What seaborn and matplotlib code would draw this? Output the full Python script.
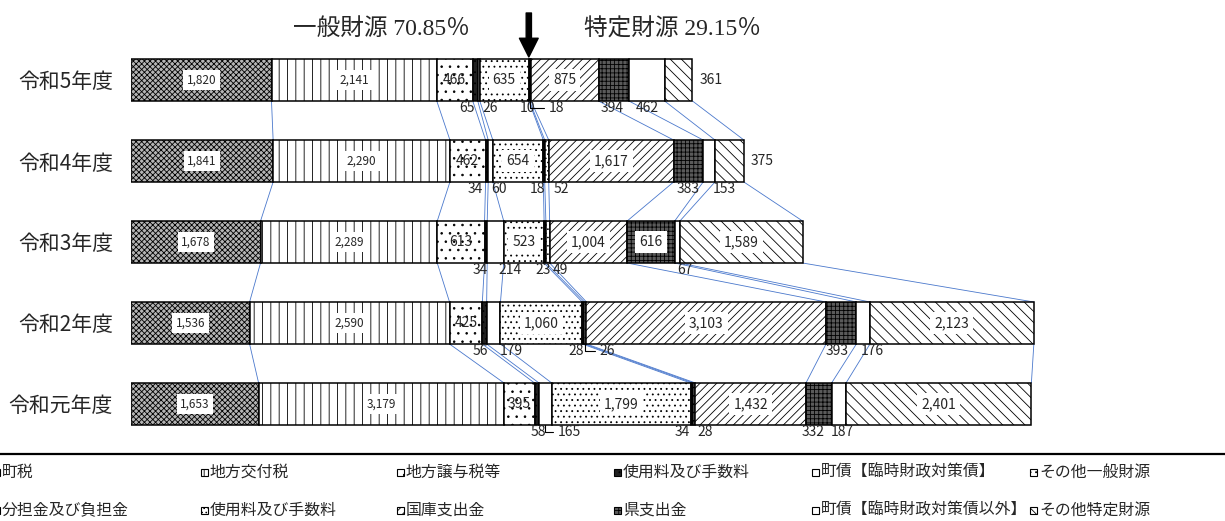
import matplotlib
matplotlib.use("Agg")
import matplotlib.pyplot as plt
from matplotlib.patches import Rectangle
from matplotlib.lines import Line2D
import numpy as np
import pandas as pd
import seaborn as sns

# ---- data -------------------------------------------------------------
years = ["令和5年度", "令和4年度", "令和3年度", "令和2年度", "令和元年度"]

sources = [
    "町税", "地方交付税", "地方譲与税等", "使用料及び手数料",
    "町債【臨時財政対策債】", "その他一般財源",
    "分担金及び負担金", "使用料及び手数料", "国庫支出金", "県支出金",
    "町債【臨時財政対策債以外】", "その他特定財源",
]
n_general = 6  # first six sources are general revenue

town_tax        = [1820, 1841, 1678, 1536, 1653]
local_alloc_tax = [2141, 2290, 2289, 2590, 3179]
transfer_tax    = [466, 462, 613, 425, 395]
fees_general    = [65, 34, 34, 56, 58]
bond_special    = [26, 60, 214, 179, 165]
other_general   = [635, 654, 523, 1060, 1799]
contributions   = [10, 18, 23, 28, 34]
fees_specific   = [18, 52, 49, 26, 28]
national_grants = [875, 1617, 1004, 3103, 1432]
pref_grants     = [394, 383, 616, 393, 332]
bond_other      = [462, 153, 67, 176, 187]
other_specific  = [361, 375, 1589, 2123, 2401]

series = [town_tax, local_alloc_tax, transfer_tax, fees_general, bond_special,
          other_general, contributions, fees_specific, national_grants,
          pref_grants, bond_other, other_specific]

# ---- styles -----------------------------------------------------------
facecolors = ["#b4b4b4", "white", "white", "#202020", "white", "white",
              "#101010", "white", "white", "#5a5a5a", "white", "white"]
hatches = ["xxxxxx", "||", "..", "...", None, "...",
           None, "....", "////", "++++", None, "\\\\\\"]

# label placement: box = inside with white box, in = inside plain,
# below = under the bar, right = after the bar end
placement = [
    ["box", "box", "in", "below", "below", "box", "below", "below", "box", "below", "below", "right"],
    ["box", "box", "in", "below", "below", "box", "below", "below", "box", "below", "below", "right"],
    ["box", "box", "in", "below", "below", "box", "below", "below", "box", "box", "below", "box"],
    ["box", "box", "in", "below", "below", "box", "below", "below", "box", "below", "below", "box"],
    ["box", "box", "in", "below", "below", "box", "below", "below", "box", "below", "below", "box"],
]
# horizontal nudges (pixels) of the labels under the bars
nudge_px = {
    (0, 3): -8, (0, 4): 11, (0, 6): -2, (0, 7): 26, (0, 9): -2, (0, 10): 1,
    (1, 3): -12, (1, 4): 8, (1, 6): -7, (1, 7): 15, (1, 9): 0, (1, 10): 15,
    (2, 3): -6, (2, 4): 15, (2, 6): -2, (2, 7): 13, (2, 10): 8,
    (3, 3): -4, (3, 4): 18, (3, 6): -7, (3, 7): 22, (3, 9): -4, (3, 10): 9,
    (4, 3): 2, (4, 4): 24, (4, 6): -10, (4, 7): 11, (4, 9): -6, (4, 10): 4,
}
leaders = {(0, 7), (3, 7), (4, 4)}

sns.set_style("white")
plt.rcParams["font.family"] = ["Noto Sans CJK JP", "DejaVu Sans"]
plt.rcParams["hatch.linewidth"] = 0.6

W, H, DPI = 12.25, 5.21, 100
fig = plt.figure(figsize=(W, H), dpi=DPI)
left_px = 131
px_per_unit = 0.0772
ax = fig.add_axes([left_px / 1225, 0, 1 - left_px / 1225, 1])

bar_h = 42 / 81
half = bar_h / 2

vals = np.array(series, dtype=float)          # (12, 5)
cum = np.vstack([np.zeros(vals.shape[1]), np.cumsum(vals, axis=0)])  # (13, 5)

for s, v in enumerate(series):
    df = pd.DataFrame({"year": years, "value": v})
    kw = dict(edgecolor="black", linewidth=1.1, left=cum[s], zorder=2)
    if hatches[s]:
        kw["hatch"] = hatches[s]
    sns.barplot(data=df, x="value", y="year", orient="y", color=facecolors[s],
                saturation=1, width=bar_h, errorbar=None, ax=ax, **kw)

# connector lines between consecutive years
for i in range(len(years) - 1):
    for k in range(1, len(series) + 1):
        ax.plot([cum[k, i], cum[k, i + 1]], [i + half, i + 1 - half],
                color="#4a78cc", lw=0.6, zorder=1)

# value labels
for i in range(len(years)):
    for s in range(len(series)):
        v = series[s][i]
        txt = f"{v:,}"
        mid = (cum[s, i] + cum[s + 1, i]) / 2
        mode = placement[i][s]
        fs = 8.5 if s < 2 else 10
        if mode == "box":
            ax.text(mid, i, txt, ha="center", va="center", fontsize=fs, zorder=4,
                    bbox=dict(facecolor="white", edgecolor="none",
                              boxstyle="square,pad=0.3"))
        elif mode == "in":
            ax.text(mid, i, txt, ha="center", va="center", fontsize=fs, zorder=4)
        elif mode == "right":
            ax.annotate(txt, xy=(cum[-1, i], i), xytext=(5, 0),
                        textcoords="offset points", ha="left", va="center",
                        fontsize=10, zorder=4)
        else:
            dx = nudge_px.get((i, s), 0) * 72 / DPI
            props = None
            if (i, s) in leaders:
                props = dict(arrowstyle="-", lw=0.8, color="black",
                             shrinkA=1, shrinkB=0,
                             connectionstyle="angle,angleA=0,angleB=90,rad=0")
            ax.annotate(txt, xy=(mid, i + half), xytext=(dx, -5.2),
                        textcoords="offset points", ha="center", va="center",
                        fontsize=10, zorder=4, arrowprops=props)

ax.set_xlim(0, (1225 - left_px) / px_per_unit)
ax.set_ylim((521 - 80) / 81, -80 / 81)
ax.set_xlabel("")
ax.set_ylabel("")
ax.set_xticks([])
ax.tick_params(axis="y", length=0, pad=13, labelsize=15)
for sp in ax.spines.values():
    sp.set_visible(False)
ax.patch.set_alpha(0)

# general / specific split for the latest year
total0 = cum[-1, 0]
general0 = cum[n_general, 0]
gen_pct = general0 / total0 * 100
spec_pct = 100 - gen_pct
title_font = ["Liberation Serif", "Noto Sans CJK JP"]
fig.text(381 / 1225, 1 - 29 / 521, f"一般財源 {gen_pct:.2f}％", ha="center", va="center",
         fontsize=17, family=title_font)
fig.text(672 / 1225, 1 - 29 / 521, f"特定財源 {spec_pct:.2f}％", ha="center", va="center",
         fontsize=17, family=title_font)
ax.annotate("", xy=(general0, -(80 - 57) / 81), xytext=(general0, -(80 - 13) / 81),
            arrowprops=dict(arrowstyle="simple,head_length=0.5,head_width=0.5,tail_width=0.14",
                            mutation_scale=27, color="black", shrinkA=0, shrinkB=0))

# legend
fig.add_artist(Line2D([0, 1], [1 - 454 / 521] * 2, transform=fig.transFigure,
                      color="black", lw=1.6))
col_px = [-7, 201, 397, 614, 812, 1030]
row_px = [472, 510]
order = [[0, 1, 2, 3, 4, 5], [6, 7, 8, 9, 10, 11]]
msz = 7
for r, row in enumerate(order):
    for c, s in enumerate(row):
        x0 = col_px[c]
        yc = row_px[r]
        rect = Rectangle((x0 / 1225, 1 - (yc + msz / 2) / 521), msz / 1225, msz / 521,
                         transform=fig.transFigure, facecolor=facecolors[s],
                         edgecolor="black", linewidth=0.8,
                         hatch=hatches[s] if hatches[s] else None)
        fig.add_artist(rect)
        fig.text((x0 + msz + 2) / 1225, 1 - yc / 521, sources[s], ha="left",
                 va="center", fontsize=11.4)

fig.savefig("out.png", dpi=DPI)
